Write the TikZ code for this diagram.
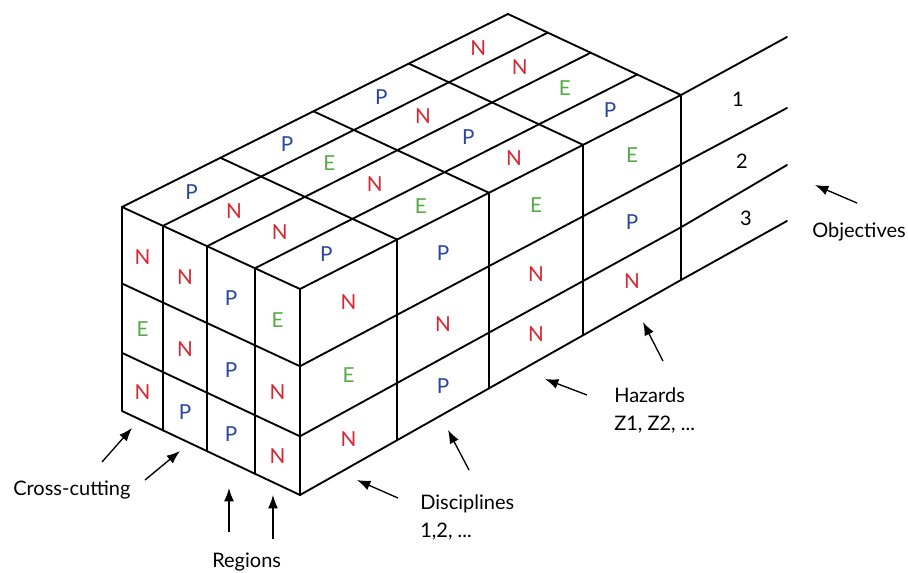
\documentclass[tikz,border=0pt]{standalone}
\usepackage{fontspec}
\setmainfont{Lato}
\usetikzlibrary{calc,arrows.meta}
\definecolor{cN}{RGB}{218,37,50}
\definecolor{cP}{RGB}{42,72,152}
\definecolor{cE}{RGB}{88,170,70}
\begin{document}
\begin{tikzpicture}[x=0.75pt,y=-0.75pt,
  edge/.style={line width=1.4pt, line join=round, line cap=round},
  lbl/.style={font=\fontsize{15}{18}\selectfont, inner sep=0pt, anchor=base west},
  num/.style={font=\fontsize{15}{18}\selectfont, inner sep=0pt},
  cell/.style={font=\fontsize{15.5}{18}\selectfont, inner sep=0pt},
  arr/.style={line width=1pt, -{Latex[length=10pt,width=7.5pt]}}]
\useasboundingbox (0,0) rectangle (908,572);
% box corners
\coordinate (FT) at (300,289);
\coordinate (FB) at (300,495);
\coordinate (LT) at (122,207);
\coordinate (LB) at (122,411);
\coordinate (RT) at (681,95);
\coordinate (RB) at (681,280);
\coordinate (BT) at (508,14);
% back edge levels and objective line ends
\coordinate (R1) at ($(RT)!0.375!(RB)$);
\coordinate (R2) at ($(RT)!0.715!(RB)$);
\coordinate (O0) at (787,37);
\coordinate (O1) at (787,108);
\coordinate (O2) at (787,165);
\coordinate (O3) at (787,221);
% outline
\draw[edge] (FB) -- (LB) -- (LT) -- (BT) -- (RT) -- (RB) -- cycle;
\draw[edge] (LT) -- (FT) -- (RT);
\draw[edge] (FT) -- (FB);
% grid lines: left-direction divisions
\foreach \k in {0.253,0.522,0.77} {
  \draw[edge] ($(FT)!\k!(LT)$) -- ($(RT)!\k!(BT)$);
  \draw[edge] ($(FT)!\k!(LT)$) -- ($(FB)!\k!(LB)$);
}
% grid lines: right-direction divisions
\foreach \k in {0.255,0.496,0.743} {
  \draw[edge] ($(FT)!\k!(RT)$) -- ($(LT)!\k!(BT)$);
  \draw[edge] ($(FT)!\k!(RT)$) -- ($(FB)!\k!(RB)$);
}
\foreach \t in {0.375,0.715} {
  \draw[edge] ($(LT)!\t!(LB)$) -- ($(FT)!\t!(FB)$) -- ($(RT)!\t!(RB)$);
}
% objective lines
\draw[edge] (RT) -- (O0);
\draw[edge] (R1) -- (O1);
\draw[edge] (R2) -- (O2);
\draw[edge] (RB) -- (O3);
% right face letters
\foreach \r/\u/\a/\b/\c in {0/0.1275/N/E/N, 1/0.3755/P/N/P, 2/0.6195/E/N/N, 3/0.8715/E/P/N} {
  \coordinate (tA) at ($(FT)!\u!(RT)$);
  \coordinate (tB) at ($(FB)!\u!(RB)$);
  \node[cell,text=c\a] (rf-\r-1) at ($(tA)!0.1875!(tB)$) {\a};
  \node[cell,text=c\b] (rf-\r-2) at ($(tA)!0.545!(tB)$) {\b};
  \node[cell,text=c\c] (rf-\r-3) at ($(tA)!0.8575!(tB)$) {\c};
}
% left face letters
\foreach \l/\u/\a/\b/\c in {0/0.126/E/N/N, 1/0.3875/P/P/P, 2/0.646/N/N/P, 3/0.885/N/E/N} {
  \coordinate (tA) at ($(FT)!\u!(LT)$);
  \coordinate (tB) at ($(FB)!\u!(LB)$);
  \node[cell,text=c\a] (lf-\l-1) at ($(tA)!0.2!(tB)$) {\a};
  \node[cell,text=c\b] (lf-\l-2) at ($(tA)!0.55!(tB)$) {\b};
  \node[cell,text=c\c] (lf-\l-3) at ($(tA)!0.86!(tB)$) {\c};
}
% top face letters
\foreach \l/\u/\r/\v/\x in {0/0.126/0/0.1275/P,1/0.3875/0/0.1275/N,2/0.646/0/0.1275/N,3/0.885/0/0.1275/P,
                      0/0.126/1/0.3755/E,1/0.3875/1/0.3755/N,2/0.646/1/0.3755/E,3/0.885/1/0.3755/P,
                      0/0.126/2/0.6195/N,1/0.3875/2/0.6195/P,2/0.646/2/0.6195/N,3/0.885/2/0.6195/P,
                      0/0.126/3/0.8715/P,1/0.3875/3/0.8715/E,2/0.646/3/0.8715/N,3/0.885/3/0.8715/N} {
  \coordinate (tA) at ($(FT)!\u!(LT)$);
  \coordinate (tB) at ($(RT)!\u!(BT)$);
  \node[cell,text=c\x] (tf-\l-\r) at ($(tA)!\v!(tB)$) {\x};
}
% objective numbers
\node[num] (n1) at (738,99) {1};
\node[num] (n2) at (742,161) {2};
\node[num] (n3) at (746,218) {3};
% labels
\node[lbl] (cross) at (13,495) {Cross-cutting};
\node[lbl] (regions) at (212,567) {Regions};
\node[lbl] (disc1) at (420,509) {Disciplines};
\node[lbl] (disc2) at (420,537) {1,2, ...};
\node[lbl] (haz1) at (614,402) {Hazards};
\node[lbl] (haz2) at (614,430) {Z1, Z2, ...};
\node[lbl] (obj) at (812,237) {Objectives};
% arrows
\coordinate (cc1t) at (102,462); \coordinate (cc1h) at (132,428);
\coordinate (cc2t) at (145,480); \coordinate (cc2h) at (180,451);
\coordinate (rg1t) at (229,532); \coordinate (rg1h) at (229,488);
\coordinate (rg2t) at (273,539); \coordinate (rg2h) at (273,495);
\coordinate (ds1t) at (398,498); \coordinate (ds1h) at (357,480);
\coordinate (ds2t) at (469,470); \coordinate (ds2h) at (448,430);
\coordinate (hz1t) at (587,395); \coordinate (hz1h) at (545,379);
\coordinate (hz2t) at (663,361); \coordinate (hz2h) at (643,322);
\coordinate (ob1t) at (857,203); \coordinate (ob1h) at (815,185);
\draw[arr] (cc1t) -- (cc1h);
\draw[arr] (cc2t) -- (cc2h);
\draw[arr] (rg1t) -- (rg1h);
\draw[arr] (rg2t) -- (rg2h);
\draw[arr] (ds1t) -- (ds1h);
\draw[arr] (ds2t) -- (ds2h);
\draw[arr] (hz1t) -- (hz1h);
\draw[arr] (hz2t) -- (hz2h);
\draw[arr] (ob1t) -- (ob1h);
\end{tikzpicture}
\end{document}
